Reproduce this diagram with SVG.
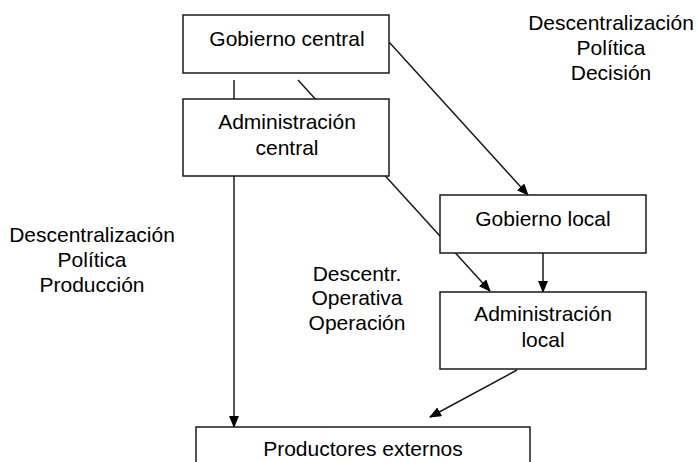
<svg xmlns="http://www.w3.org/2000/svg" width="697" height="462" viewBox="0 0 697 462">
<defs>
<marker id="ah" markerWidth="12" markerHeight="10" refX="11" refY="5" orient="auto" markerUnits="userSpaceOnUse">
<path d="M0,0 L12,5 L0,10 z" fill="#000"/>
</marker>
<style>
.box{fill:#fff;stroke:#1a1a1a;stroke-width:1.5}
.ln{stroke:#1a1a1a;stroke-width:1.5;fill:none}
text{font-family:"Liberation Sans",Arial,sans-serif;font-size:21px;fill:#000;text-anchor:middle}
</style>
</defs>
<rect width="697" height="462" fill="#fff"/>
<g id="connectors">
<line class="ln" x1="234" y1="80" x2="234" y2="427" marker-end="url(#ah)"/>
<line class="ln" x1="298" y1="80" x2="490" y2="291" marker-end="url(#ah)"/>
<line class="ln" x1="389" y1="42" x2="528" y2="195" marker-end="url(#ah)"/>
<line class="ln" x1="543" y1="253" x2="543" y2="292" marker-end="url(#ah)"/>
<line class="ln" x1="517" y1="370" x2="430" y2="417" marker-end="url(#ah)"/>
</g>
<g id="gobierno-central">
<rect class="box" x="183" y="15" width="206" height="58"/>
<text x="287" y="46">Gobierno central</text>
</g>
<g id="administracion-central">
<rect class="box" x="183" y="99" width="206" height="77"/>
<text x="287" y="129">Administración</text>
<text x="287" y="155">central</text>
</g>
<g id="gobierno-local">
<rect class="box" x="440" y="195" width="206" height="58"/>
<text x="543" y="226">Gobierno local</text>
</g>
<g id="administracion-local">
<rect class="box" x="440" y="292" width="206" height="77"/>
<text x="543" y="321">Administración</text>
<text x="543" y="347">local</text>
</g>
<g id="productores-externos">
<rect class="box" x="196" y="427" width="334" height="50"/>
<text x="363" y="456">Productores externos</text>
</g>
<g id="label-decision">
<text x="611" y="30">Descentralización</text>
<text x="611" y="55">Política</text>
<text x="611" y="80">Decisión</text>
</g>
<g id="label-produccion">
<text x="92" y="242">Descentralización</text>
<text x="92" y="267">Política</text>
<text x="92" y="292">Producción</text>
</g>
<g id="label-operacion">
<text x="357" y="281">Descentr.</text>
<text x="357" y="305">Operativa</text>
<text x="357" y="330">Operación</text>
</g>
</svg>
